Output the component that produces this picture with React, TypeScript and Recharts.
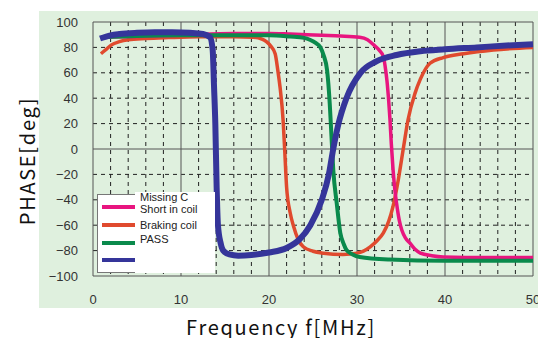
import React from 'react';
import { LineChart, Line, XAxis, YAxis, CartesianGrid } from 'recharts';

// frequency [MHz] / phase [deg]
const missingFreq = [1, 5, 10, 16, 20, 22.4, 26, 28.1, 30.3, 31.2, 31.9, 32.5, 33, 33.2, 33.4, 33.6, 33.75, 33.9, 34.1, 34.3, 34.5, 34.8, 35.1, 35.5, 36, 36.6, 37.2, 38.5, 39.8, 45, 50];
const missingPhase = [88, 88.5, 89.5, 91, 91, 90.5, 89.5, 89, 88, 86, 82, 78, 72.7, 65, 54, 38, 23, 4, -16.5, -32, -43, -56, -64, -70, -74, -79, -82, -84, -85, -85.5, -85.5];

const brakingFreq = [0.9, 1.5, 2.1, 3, 4, 6, 8.6, 12, 16, 18.2, 19.2, 19.7, 20.2, 20.7, 21, 21.25, 21.6, 21.8, 22, 22.4, 22.8, 23.3, 23.9, 25, 26.2, 28.4, 30, 31.5, 32.3, 33, 33.6, 34.1, 34.7, 35.3, 35.8, 36.6, 37.2, 38.3, 39.8, 42.1, 45.5, 50];
const brakingPhase = [75, 78.5, 82, 84.5, 86, 87, 87.7, 88.3, 88.3, 88, 86.5, 84.5, 81, 75, 62, 49, 23, -3, -30, -50, -61, -71, -77, -80.5, -82, -83, -82, -77, -72, -66, -57, -45, -24, 2, 23, 44, 55, 67.5, 72, 75, 78, 80];

const passFreq = [1, 5, 10, 15, 20, 22.4, 24, 24.7, 25.3, 25.8, 26.2, 26.6, 26.9, 27.1, 27.3, 27.7, 28.1, 28.5, 28.8, 29.5, 30.3, 33.7, 40, 50];
const passPhase = [88, 89, 89.5, 89.5, 89.5, 88.5, 87.5, 85.8, 83.5, 80.5, 74, 62, 36, 10, -16, -43, -66, -75, -79.5, -83, -85, -87, -88, -88];

const blueFreq = [0.8, 2, 3, 5, 7, 9, 11, 12.5, 13.3, 13.6, 13.75, 13.9, 14.05, 14.2, 14.5, 14.8, 15.5, 16.5, 18, 20, 22, 23.5, 24.7, 26, 26.8, 27.3, 27.9, 28.8, 30.4, 32.2, 34.5, 37.2, 40, 43.6, 47, 50];
const bluePhase = [87, 89.5, 90.5, 91.5, 92, 92, 91.5, 90.5, 88, 78, 50, 20, -30, -60, -74, -80, -83, -84, -83.5, -81.5, -78, -71, -60, -40, -20, 0, 20, 40, 60, 69, 74, 77, 78.5, 80, 81.5, 82.5];

const xTicks = [0, 10, 20, 30, 40, 50];
const yTicks = [-100, -80, -60, -40, -20, 0, 20, 40, 60, 80, 100];
const xMinor = [2, 4, 6, 8, 12, 14, 16, 18, 22, 24, 26, 28, 32, 34, 36, 38, 42, 44, 46, 48];
const yMinor = [-80, -60, -40, -20, 20, 40, 60, 80];
const xMajor = [0, 10, 20, 30, 40, 50];
const yMajor = [-100, 0, 100];

const legendLabels = ['Missing C', 'Short in coil', 'Braking coil', 'PASS'];
const legendColors = ['#e8157f', '#e04a2e', '#0a8a4c', '#35359a'];

const toPoints = (f: number[], v: number[]) => f.map((x, i) => ({ f: x, v: v[i] }));

const fmt = (v: number) => (v < 0 ? `\u2212${-v}` : `${v}`);

const tickStyle = { fontSize: 13, fill: '#333', fontFamily: 'Liberation Sans, Arial, sans-serif' };

// legend is an overlay so it takes no room from the plot
function LegendBox() {
  return (
    <div style={{ position: 'absolute', left: 97, top: 192, width: 118, height: 81, fontFamily: 'Liberation Sans, Arial, sans-serif' }}>
      <div style={{ position: 'absolute', left: 38, top: 0, width: 80, height: 81, background: '#fff' }} />
      <div style={{ position: 'absolute', left: 0, top: 2, width: 37, height: 77, background: '#fff', borderLeft: '1px solid #777', borderTop: '1px solid #777', borderBottom: '1px solid #777' }} />
      {legendColors.map((c, i) => (
        <div key={c} style={{ position: 'absolute', left: 5, top: [13, 30.5, 49, 66][i], width: 33, height: 4, background: c }} />
      ))}
      {legendLabels.map((t, i) => (
        <div key={t} style={{ position: 'absolute', left: 43, top: [-1, 11, 26.5, 41][i], fontSize: 11, lineHeight: '13px', color: '#222', whiteSpace: 'nowrap' }}>{t}</div>
      ))}
    </div>
  );
}

const titleStyle: React.CSSProperties = {
  position: 'absolute', fontSize: 20, lineHeight: 1, fontFamily: 'Noto Sans CJK JP, sans-serif',
  color: '#111', whiteSpace: 'nowrap', letterSpacing: 1.7,
};

export default function App() {
  return (
    <div style={{ position: 'absolute', left: 0, top: 0, width: 538, height: 338, background: '#fff', overflow: 'hidden' }}>
      <div style={{ position: 'absolute', left: 39, top: 11, width: 499, height: 297, background: '#dff0de' }} />
      <div style={{ position: 'absolute', left: 0, top: 0 }}>
        <LineChart width={538} height={338} margin={{ top: 22, right: 5, bottom: 0, left: 0 }}>
          <CartesianGrid stroke="#222" strokeDasharray="4 4" verticalValues={xMinor} horizontalValues={yMinor} />
          <CartesianGrid stroke="#555" verticalValues={xMajor} horizontalValues={yMajor} />
          <XAxis type="number" dataKey="f" domain={[0, 50]} ticks={xTicks} interval={0}
            axisLine={false} tickLine={false} tickMargin={13} height={62} tick={tickStyle} />
          <YAxis type="number" domain={[-100, 100]} ticks={yTicks} interval={0} width={93}
            axisLine={false} tickLine={false} tickMargin={9} tick={tickStyle} tickFormatter={fmt} />
          <Line data={toPoints(brakingFreq, brakingPhase)} dataKey="v" name="Braking coil" type="monotone"
            stroke="#e04a2e" strokeWidth={3.5} dot={false} isAnimationActive={false} />
          <Line data={toPoints(missingFreq, missingPhase)} dataKey="v" name="Missing C" type="monotone"
            stroke="#e8157f" strokeWidth={3.5} dot={false} isAnimationActive={false} />
          <Line data={toPoints(passFreq, passPhase)} dataKey="v" name="PASS" type="monotone"
            stroke="#0a8a4c" strokeWidth={4} dot={false} isAnimationActive={false} />
          <Line data={toPoints(blueFreq, bluePhase)} dataKey="v" name=" " type="monotone"
            stroke="#35359a" strokeWidth={6} dot={false} isAnimationActive={false} />
        </LineChart>
      </div>
      <LegendBox />
      <div style={{ ...titleStyle, left: 27, top: 161, transform: 'translate(-50%, -50%) rotate(-90deg)' }}>PHASE[deg]</div>
      <div style={{ ...titleStyle, left: 281, top: 327, transform: 'translate(-50%, -50%)' }}>Frequency f[MHz]</div>
    </div>
  );
}
